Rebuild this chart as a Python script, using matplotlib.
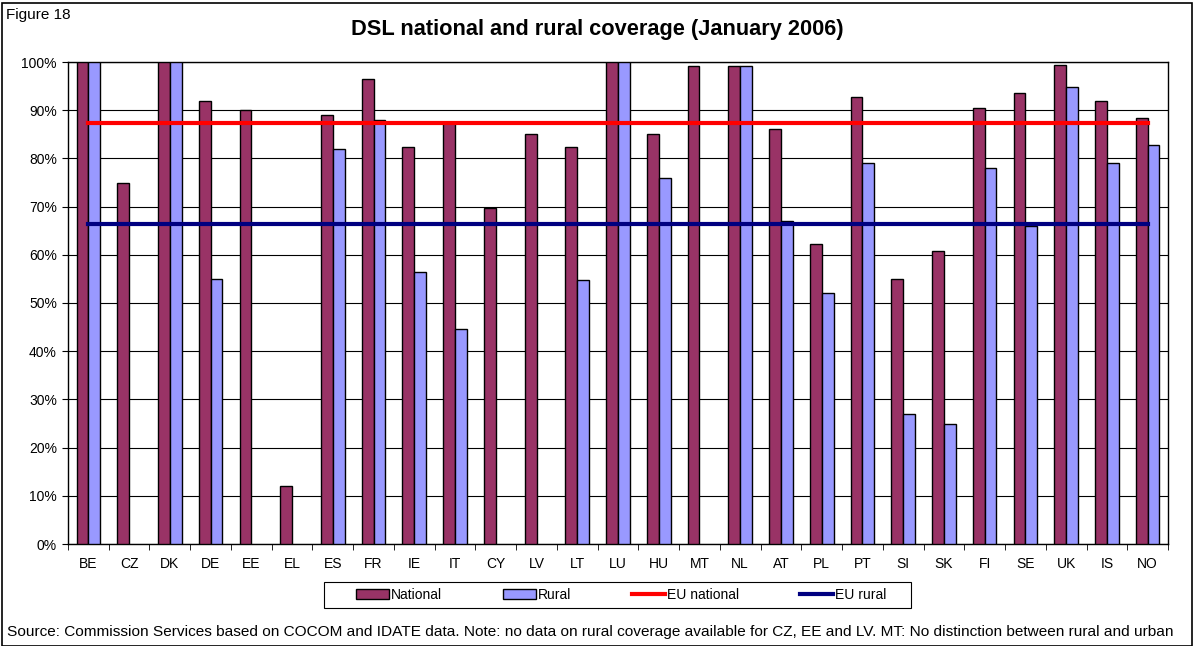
import numpy as np
import matplotlib.pyplot as plt
from matplotlib.patches import Rectangle

plt.rcParams['font.family'] = ['Liberation Sans', 'DejaVu Sans']

countries = ['BE', 'CZ', 'DK', 'DE', 'EE', 'EL', 'ES', 'FR', 'IE', 'IT', 'CY', 'LV', 'LT', 'LU',
             'HU', 'MT', 'NL', 'AT', 'PL', 'PT', 'SI', 'SK', 'FI', 'SE', 'UK', 'IS', 'NO']
national = [100, 75, 100, 92, 90, 12, 89, 96.5, 82.3, 87.3, 69.8, 85, 82.3, 100,
            85, 99.1, 99.1, 86, 62.3, 92.7, 55, 60.8, 90.5, 93.5, 99.4, 92, 88.4]
rural = [100, np.nan, 100, 55, np.nan, np.nan, 82, 88, 56.5, 44.6, np.nan, np.nan, 54.7, 100,
         76, np.nan, 99.1, 67, 52, 79, 27, 25, 78, 66, 94.9, 79, 82.7]
eu_national = 87.4
eu_rural = 66.4

fig = plt.figure(figsize=(11.95, 6.46), dpi=100)
ax = fig.add_axes([68/1195, 1-544/646, 1100/1195, 482/646])

x = np.arange(len(countries))
w = 0.29
b1 = ax.bar(x - w/2, national, w, color='#993366', edgecolor='black', linewidth=1, label='National', zorder=3)
b2 = ax.bar(x + w/2, rural, w, color='#9999FF', edgecolor='black', linewidth=1, label='Rural', zorder=3)
l1, = ax.plot(x, [eu_national]*len(x), color='#FF0000', linewidth=3, label='EU national', zorder=4)
l2, = ax.plot(x, [eu_rural]*len(x), color='#000080', linewidth=3, label='EU rural', zorder=4)

ax.set_xlim(-0.5, len(x) - 0.5)
ax.set_ylim(0, 100)
ax.set_yticks(range(0, 101, 10))
ax.set_yticklabels([f'{v}%' for v in range(0, 101, 10)])
ax.set_xticks(x)
ax.set_xticklabels(countries)
ax.set_xticks(np.arange(-0.5, len(x), 1), minor=True)
ax.tick_params(axis='x', which='major', length=0, pad=9, labelsize=10)
ax.tick_params(axis='x', which='minor', length=4, direction='out')
ax.tick_params(axis='y', length=4, direction='out', labelsize=10, pad=4)
ax.grid(axis='y', color='black', linewidth=0.8, zorder=0)
for s in ax.spines.values():
    s.set_linewidth(1)

fig.text(0.5, 1-30/646, 'DSL national and rural coverage (January 2006)', ha='center', va='center',
         fontsize=15.7, fontweight='bold')
fig.text(6/1195, 1-15/646, 'Figure 18', ha='left', va='center', fontsize=11)
fig.text(7/1195, 1-632/646, 'Source: Commission Services based on COCOM and IDATE data. Note: no data on rural '
         'coverage available for CZ, EE and LV. MT: No distinction between rural and urban',
         ha='left', va='center', fontsize=11.1)

# legend without its own frame, box drawn separately (Excel-like padding)
leg = fig.legend([b1, b2, l1, l2], ['National', 'Rural', 'EU national', 'EU rural'],
                 loc='center', bbox_to_anchor=(621/1195, 1-595/646), ncol=4, frameon=False,
                 fontsize=10, columnspacing=4.4,
                 handlelength=2.4, handleheight=0.8, handletextpad=0.1)
fig.patches.append(Rectangle((324/1195, 1-608/646), 587/1195, 26/646, transform=fig.transFigure,
                             fill=False, edgecolor='black', linewidth=0.8))

fig.patches.append(Rectangle((2/1195, 0), 1190/1195, 1-3/646, transform=fig.transFigure,
                             fill=False, edgecolor='black', linewidth=1.2))

fig.savefig('out.png', dpi=100)
